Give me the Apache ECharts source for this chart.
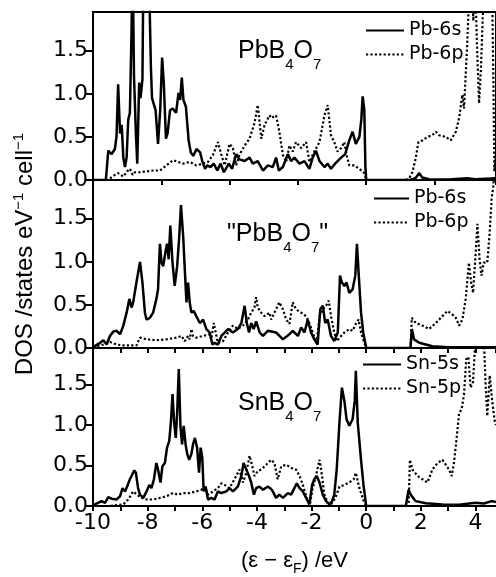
<!DOCTYPE html>
<html>
<head>
<meta charset="utf-8">
<title>DOS PbB4O7 / SnB4O7</title>
<script src="https://cdn.jsdelivr.net/npm/echarts@6.0.0/dist/echarts.min.js"></script>
<style>
  html, body { margin: 0; padding: 0; background: #fff; }
  #chart { width: 496px; height: 577px; }
</style>
</head>
<body>
<div id="chart"></div>
<script>
// energy (eV, relative to E_F) vs DOS (states / eV / cell)
const pbTop6s = [
  [-10, 0], [-9.53, 0], [-9.44, 0.34], [-9.32, 0.30], [-9.20, 0.36], [-9.14, 0.50], [-9.08, 1.11], [-9.01, 0.54],
  [-8.95, 0.64], [-8.89, 0.26], [-8.83, 0.15], [-8.77, 0.26], [-8.71, 0.70], [-8.65, 0.78], [-8.59, 1.72], [-8.55, 2.6],
  [-8.50, 1.21], [-8.43, 0.54], [-8.38, 0.19], [-8.31, 1.13], [-8.26, 0.95], [-8.19, 1.17], [-8.16, 2.3], [-8.05, 3.0],
  [-7.94, 2.2], [-7.88, 1.3], [-7.84, 0.95], [-7.78, 0.93], [-7.71, 0.81], [-7.62, 0.42], [-7.54, 0.81], [-7.47, 1.42],
  [-7.41, 1.13], [-7.33, 0.48], [-7.27, 0.54], [-7.18, 0.81], [-7.08, 0.83], [-6.96, 0.78], [-6.87, 1.01], [-6.81, 0.93],
  [-6.75, 1.19], [-6.69, 0.93], [-6.60, 0.85], [-6.50, 0.46], [-6.42, 0.32], [-6.33, 0.28], [-6.21, 0.36], [-6.08, 0.32],
  [-6.00, 0.22], [-5.90, 0.13], [-5.82, 0.17], [-5.70, 0.15], [-5.58, 0.19], [-5.45, 0.11], [-5.33, 0.19], [-5.21, 0.09],
  [-5.03, 0.19], [-4.91, 0.13], [-4.76, 0.30], [-4.64, 0.24], [-4.45, 0.22], [-4.27, 0.26], [-4.15, 0.19], [-3.97, 0.22],
  [-3.78, 0.11], [-3.60, 0.17], [-3.42, 0.15], [-3.30, 0.26], [-3.20, 0.11], [-3.05, 0.15], [-2.87, 0.30], [-2.75, 0.22],
  [-2.63, 0.26], [-2.44, 0.19], [-2.26, 0.22], [-2.08, 0.13], [-1.96, 0.26], [-1.84, 0.34], [-1.71, 0.22], [-1.53, 0.15],
  [-1.41, 0.19], [-1.29, 0.13], [-1.11, 0.20], [-0.92, 0.26], [-0.77, 0.30], [-0.62, 0.46], [-0.50, 0.56], [-0.38, 0.42],
  [-0.25, 0.50], [-0.18, 0.70], [-0.13, 0.97], [-0.07, 0.81], [-0.03, 0.15], [0, 0],
  [1.6, 0], [1.8, 0.02], [1.94, 0.08], [2.05, 0.03], [2.3, 0.01], [3.0, 0.005], [3.7, 0.02], [4.0, 0.01], [4.75, 0.02]
];
const pbTop6p = [
  [-10, 0], [-9.45, 0], [-9.38, 0.02], [-9.25, 0.05], [-9.08, 0.08], [-8.89, 0.04], [-8.75, 0.10], [-8.65, 0.13],
  [-8.55, 0.06], [-8.47, 0.09], [-8.28, 0.09], [-8.04, 0.10], [-7.80, 0.11], [-7.55, 0.11], [-7.31, 0.17], [-7.07, 0.23],
  [-6.89, 0.21], [-6.70, 0.19], [-6.46, 0.21], [-6.22, 0.17], [-5.97, 0.19], [-5.79, 0.21], [-5.61, 0.29], [-5.43, 0.44],
  [-5.30, 0.29], [-5.18, 0.17], [-5.00, 0.42], [-4.88, 0.37], [-4.76, 0.17], [-4.64, 0.29], [-4.45, 0.40], [-4.27, 0.48],
  [-4.09, 0.66], [-3.97, 0.87], [-3.84, 0.48], [-3.72, 0.64], [-3.54, 0.75], [-3.48, 0.72], [-3.30, 0.75], [-3.18, 0.56],
  [-3.05, 0.29], [-2.93, 0.21], [-2.81, 0.40], [-2.69, 0.33], [-2.57, 0.44], [-2.38, 0.37], [-2.20, 0.44], [-2.08, 0.21],
  [-1.90, 0.33], [-1.71, 0.44], [-1.53, 0.75], [-1.41, 0.87], [-1.29, 0.52], [-1.17, 0.44], [-1.05, 0.33], [-0.92, 0.37],
  [-0.80, 0.44], [-0.72, 0.29], [-0.62, 0.17], [-0.44, 0.17], [-0.25, 0.13], [-0.07, 0.08], [0, 0],
  [1.45, 0], [1.57, 0.02], [1.69, 0.09], [1.81, 0.25], [1.91, 0.44], [2.06, 0.46], [2.24, 0.50], [2.42, 0.52],
  [2.55, 0.56], [2.67, 0.52], [2.91, 0.50], [3.09, 0.46], [3.28, 0.56], [3.40, 0.72], [3.52, 0.99], [3.58, 0.83],
  [3.64, 1.22], [3.70, 1.6], [3.76, 2.1], [3.85, 2.5], [3.92, 1.85], [3.98, 2.4], [4.05, 1.6], [4.13, 0.89],
  [4.20, 1.3], [4.30, 2.2], [4.45, 2.6], [4.60, 2.4], [4.66, 1.0], [4.69, 0.1], [4.75, 0.3]
];
const pbMid6s = [
  [-10, 0.01], [-9.99, 0.02], [-9.74, 0.06], [-9.62, 0.09], [-9.50, 0.04], [-9.38, 0.14], [-9.26, 0.19], [-9.14, 0.20],
  [-9.01, 0.16], [-8.89, 0.26], [-8.77, 0.41], [-8.67, 0.57], [-8.59, 0.47], [-8.53, 0.53], [-8.41, 0.76], [-8.28, 1.00],
  [-8.19, 0.76], [-8.10, 0.41], [-8.04, 0.33], [-7.92, 0.35], [-7.80, 0.41], [-7.68, 0.57], [-7.62, 0.68], [-7.55, 1.21],
  [-7.49, 0.99], [-7.43, 0.95], [-7.34, 1.13], [-7.29, 1.21], [-7.23, 1.03], [-7.17, 1.42], [-7.09, 0.99], [-7.01, 0.72],
  [-6.92, 0.95], [-6.85, 1.26], [-6.78, 1.66], [-6.70, 1.30], [-6.64, 0.91], [-6.58, 0.53], [-6.52, 0.76], [-6.46, 0.53],
  [-6.40, 0.41], [-6.31, 0.43], [-6.22, 0.37], [-6.09, 0.29], [-5.97, 0.33], [-5.85, 0.22], [-5.73, 0.18], [-5.63, 0.04],
  [-5.55, 0.06], [-5.43, 0.04], [-5.30, 0.14], [-5.18, 0.18], [-5.06, 0.22], [-4.88, 0.18], [-4.70, 0.22], [-4.57, 0.29],
  [-4.45, 0.49], [-4.37, 0.29], [-4.29, 0.18], [-4.21, 0.29], [-4.12, 0.22], [-4.03, 0.31], [-3.90, 0.18], [-3.78, 0.14],
  [-3.60, 0.20], [-3.54, 0.22], [-3.30, 0.18], [-3.05, 0.10], [-2.81, 0.16], [-2.69, 0.20], [-2.50, 0.14], [-2.38, 0.24],
  [-2.26, 0.18], [-2.14, 0.33], [-2.02, 0.18], [-1.90, 0.10], [-1.78, 0.04], [-1.68, 0.45], [-1.59, 0.49], [-1.50, 0.29],
  [-1.41, 0.33], [-1.29, 0.14], [-1.17, 0.08], [-1.04, 0.18], [-0.96, 0.84], [-0.89, 0.76], [-0.80, 0.72], [-0.72, 0.76],
  [-0.62, 0.64], [-0.50, 0.68], [-0.40, 0.84], [-0.34, 1.21], [-0.28, 0.88], [-0.19, 0.41], [-0.11, 0.18], [0, 0],
  [1.62, 0], [1.67, 0.22], [1.75, 0.10], [1.94, 0.06], [2.42, 0.02], [3.0, 0.01], [4.0, 0.01], [4.75, 0.01]
];
const pbMid6p = [
  [-10, 0.01], [-9.62, 0.04], [-9.38, 0.07], [-9.14, 0.04], [-8.89, 0.03], [-8.41, 0.03], [-8.28, 0.12], [-8.04, 0.10],
  [-7.68, 0.09], [-7.31, 0.10], [-6.95, 0.12], [-6.76, 0.14], [-6.64, 0.08], [-6.52, 0.14], [-6.46, 0.10], [-6.40, 0.22],
  [-6.34, 0.14], [-6.22, 0.12], [-5.97, 0.14], [-5.73, 0.16], [-5.67, 0.10], [-5.58, 0.29], [-5.51, 0.18], [-5.43, 0.06],
  [-5.24, 0.08], [-5.06, 0.18], [-4.88, 0.26], [-4.70, 0.22], [-4.51, 0.26], [-4.33, 0.33], [-4.21, 0.41], [-4.09, 0.47],
  [-4.03, 0.59], [-3.97, 0.47], [-3.84, 0.41], [-3.72, 0.37], [-3.54, 0.41], [-3.48, 0.33], [-3.30, 0.45], [-3.18, 0.53],
  [-3.05, 0.45], [-2.93, 0.33], [-2.81, 0.28], [-2.69, 0.53], [-2.57, 0.45], [-2.38, 0.41], [-2.20, 0.37], [-2.08, 0.29],
  [-1.96, 0.18], [-1.81, 0.06], [-1.71, 0.37], [-1.59, 0.45], [-1.47, 0.49], [-1.37, 0.55], [-1.29, 0.37], [-1.17, 0.18],
  [-1.08, 0.08], [-0.92, 0.14], [-0.80, 0.18], [-0.62, 0.22], [-0.50, 0.20], [-0.38, 0.28], [-0.28, 0.33], [-0.19, 0.18],
  [-0.07, 0.06], [0, 0],
  [1.62, 0], [1.67, 0.35], [1.81, 0.29], [2.06, 0.26], [2.30, 0.22], [2.55, 0.29], [2.79, 0.37], [2.97, 0.43],
  [3.15, 0.39], [3.28, 0.35], [3.40, 0.26], [3.52, 0.33], [3.64, 0.57], [3.76, 0.99], [3.84, 0.76], [3.91, 0.64],
  [4.00, 1.07], [4.07, 1.44], [4.15, 1.03], [4.22, 0.84], [4.30, 0.99], [4.43, 0.99], [4.51, 1.30], [4.59, 1.73],
  [4.65, 1.88], [4.71, 2.1], [4.75, 2.3]
];
const snBot5s = [
  [-10, 0.01], [-9.99, 0.02], [-9.81, 0.04], [-9.68, 0.06], [-9.56, 0.04], [-9.44, 0.11], [-9.32, 0.09], [-9.14, 0.08],
  [-9.01, 0.12], [-8.92, 0.22], [-8.83, 0.18], [-8.75, 0.24], [-8.65, 0.33], [-8.59, 0.37], [-8.49, 0.44], [-8.43, 0.41],
  [-8.35, 0.22], [-8.28, 0.14], [-8.16, 0.10], [-8.04, 0.18], [-7.94, 0.26], [-7.86, 0.22], [-7.77, 0.33], [-7.68, 0.53],
  [-7.62, 0.45], [-7.53, 0.29], [-7.46, 0.49], [-7.37, 0.53], [-7.29, 0.72], [-7.21, 0.80], [-7.15, 1.03], [-7.09, 1.38],
  [-7.03, 1.03], [-6.97, 0.84], [-6.92, 1.15], [-6.86, 1.69], [-6.80, 0.99], [-6.74, 0.76], [-6.68, 0.99], [-6.61, 0.76],
  [-6.55, 0.64], [-6.48, 0.57], [-6.40, 0.64], [-6.34, 0.76], [-6.27, 0.84], [-6.19, 0.72], [-6.12, 0.41], [-6.06, 0.72],
  [-6.00, 0.60], [-5.95, 0.18], [-5.88, 0.24], [-5.79, 0.08], [-5.67, 0.10], [-5.55, 0.08], [-5.43, 0.18], [-5.30, 0.16],
  [-5.12, 0.18], [-5.00, 0.22], [-4.88, 0.18], [-4.70, 0.24], [-4.57, 0.37], [-4.49, 0.53], [-4.39, 0.45], [-4.29, 0.37],
  [-4.21, 0.29], [-4.11, 0.14], [-4.03, 0.22], [-3.91, 0.24], [-3.78, 0.20], [-3.60, 0.24], [-3.48, 0.21], [-3.42, 0.18],
  [-3.30, 0.10], [-3.18, 0.14], [-3.05, 0.10], [-2.87, 0.16], [-2.75, 0.14], [-2.63, 0.22], [-2.54, 0.28], [-2.44, 0.22],
  [-2.32, 0.18], [-2.20, 0.10], [-2.08, 0.02], [-1.98, 0.26], [-1.90, 0.33], [-1.81, 0.37], [-1.71, 0.29], [-1.59, 0.14],
  [-1.47, 0.06], [-1.35, 0.02], [-1.25, 0.06], [-1.17, 0.14], [-1.08, 0.45], [-0.98, 1.03], [-0.89, 1.46], [-0.80, 1.30],
  [-0.72, 1.07], [-0.62, 0.99], [-0.50, 1.07], [-0.42, 1.30], [-0.38, 1.67], [-0.31, 1.03], [-0.19, 0.57], [-0.10, 0.26],
  [0, 0],
  [1.45, 0], [1.55, 0.20], [1.63, 0.14], [1.81, 0.06], [2.18, 0.035], [2.79, 0.02], [3.4, 0.015], [4.0, 0.04],
  [4.3, 0.03], [4.6, 0.06], [4.75, 0.05]
];
const snBot5p = [
  [-10, 0], [-9.38, 0], [-8.89, 0.02], [-8.71, 0.08], [-8.53, 0.18], [-8.28, 0.11], [-8.04, 0.08], [-7.80, 0.08],
  [-7.55, 0.10], [-7.31, 0.12], [-7.07, 0.16], [-6.89, 0.14], [-6.70, 0.16], [-6.46, 0.16], [-6.22, 0.18], [-6.03, 0.20],
  [-5.91, 0.24], [-5.79, 0.14], [-5.61, 0.18], [-5.43, 0.22], [-5.30, 0.28], [-5.18, 0.26], [-5.00, 0.22], [-4.76, 0.37],
  [-4.64, 0.45], [-4.51, 0.29], [-4.39, 0.41], [-4.27, 0.62], [-4.17, 0.49], [-4.09, 0.37], [-3.97, 0.43], [-3.84, 0.45],
  [-3.72, 0.49], [-3.60, 0.53], [-3.48, 0.57], [-3.36, 0.53], [-3.24, 0.33], [-3.11, 0.49], [-2.93, 0.51], [-2.75, 0.47],
  [-2.57, 0.45], [-2.44, 0.37], [-2.32, 0.26], [-2.14, 0.06], [-2.06, 0.02], [-1.96, 0.22], [-1.84, 0.37], [-1.71, 0.57],
  [-1.65, 0.45], [-1.53, 0.14], [-1.41, 0.04], [-1.29, 0.02], [-1.13, 0.10], [-0.98, 0.24], [-0.80, 0.26], [-0.62, 0.29],
  [-0.46, 0.33], [-0.38, 0.41], [-0.25, 0.22], [-0.07, 0.04], [0, 0],
  [1.55, 0], [1.60, 0.57], [1.69, 0.45], [1.88, 0.37], [2.06, 0.33], [2.24, 0.29], [2.42, 0.45], [2.61, 0.53],
  [2.79, 0.57], [2.91, 0.51], [3.03, 0.45], [3.13, 0.37], [3.21, 0.53], [3.31, 0.84], [3.40, 1.15], [3.49, 1.19],
  [3.58, 1.38], [3.66, 1.81], [3.74, 1.84], [3.82, 1.46], [3.91, 1.53], [4.00, 2.1], [4.10, 2.3], [4.20, 2.2],
  [4.30, 2.1], [4.37, 1.50], [4.43, 1.11], [4.52, 1.61], [4.61, 1.30], [4.71, 1.03], [4.75, 1.0]
];

const panelNames = ['PbB{s|4}O{s|7}', '"PbB{s|4}O{s|7}"', 'SnB{s|4}O{s|7}'];
const legendNames = [['Pb-6s', 'Pb-6p'], ['Pb-6s', 'Pb-6p'], ['Sn-5s', 'Sn-5p']];
const yMajorTicks = [0, 0.5, 1.0, 1.5];
const yMinorTicks = [0.25, 0.75, 1.25, 1.75];
const xTickStep = [2.5, 1, 1];

const FONT = 'Liberation Sans, Arial, sans-serif';
const TICK_FONT = 'DejaVu Sans, sans-serif';
const X_MIN = -10;
const X_MAX = 4.75;
const Y_MAX = 1.95;
const GRID_TOP = 12;
const GRID_H = 168;

const chart = echarts.init(document.getElementById('chart'), null, { renderer: 'canvas' });

const grids = [0, 1, 2].map((i) => ({
  left: 93,
  width: 404,
  top: GRID_TOP + GRID_H * i,
  height: GRID_H,
  show: i === 0,
  borderColor: '#000',
  borderWidth: 2,
}));

const xAxes = [0, 1, 2].map((i) => ({
  type: 'value',
  gridIndex: i,
  min: X_MIN,
  max: X_MAX,
  interval: xTickStep[i],
  axisLine: { show: true, onZero: false, lineStyle: { color: '#000', width: 2 } },
  axisTick: { show: true, inside: false, length: 5, lineStyle: { color: '#000', width: 2 } },
  splitLine: { show: false },
  axisLabel: i < 2 ? { show: false } : {
    show: true,
    margin: 6,
    fontSize: 22,
    fontFamily: TICK_FONT,
    color: '#000',
    showMaxLabel: false,
    formatter: (v) => (Math.abs(v % 2) < 1e-9 ? String(v) : ''),
  },
  name: i === 2 ? '(\u03b5 \u2212 \u03b5{sub|F}) /eV' : '',
  nameLocation: 'middle',
  nameGap: 40,
  nameTextStyle: {
    fontSize: 22,
    fontFamily: FONT,
    color: '#000',
    lineHeight: 30,
    rich: { sub: { fontSize: 14, lineHeight: 14, verticalAlign: 'bottom', fontFamily: FONT, color: '#000' } },
  },
}));

const yMain = [0, 1, 2].map((i) => ({
  type: 'value',
  gridIndex: i,
  min: 0,
  max: Y_MAX,
  interval: 0.5,
  axisLine: { show: true, onZero: false, lineStyle: { color: '#000', width: 2 } },
  axisTick: { show: true, length: 8, customValues: yMajorTicks, lineStyle: { color: '#000', width: 2 } },
  axisLabel: {
    margin: 5,
    fontSize: 22,
    fontFamily: TICK_FONT,
    color: '#000',
    customValues: yMajorTicks,
    formatter: (v) => v.toFixed(1),
  },
  splitLine: { show: false },
}));

const yMinor = [0, 1, 2].map((i) => ({
  type: 'value',
  gridIndex: i,
  min: 0,
  max: Y_MAX,
  axisLine: { show: false, onZero: false },
  axisTick: { show: true, length: 5, customValues: yMinorTicks, lineStyle: { color: '#000', width: 2 } },
  axisLabel: { show: false },
  splitLine: { show: false },
}));

function dosLine(name, data, panel, dotted) {
  return {
    type: 'line',
    name,
    data,
    xAxisIndex: panel,
    yAxisIndex: panel,
    symbol: 'none',
    silent: true,
    lineStyle: dotted
      ? { color: '#000', width: 2.2, type: [2.2, 2.2] }
      : { color: '#000', width: 2.5, type: 'solid' },
    itemStyle: { color: '#000' },
  };
}

const series = [
  dosLine('Pb-6s', pbTop6s, 0, false),
  dosLine('Pb-6p', pbTop6p, 0, true),
  dosLine('Pb-6s', pbMid6s, 1, false),
  dosLine('Pb-6p', pbMid6p, 1, true),
  dosLine('Sn-5s', snBot5s, 2, false),
  dosLine('Sn-5p', snBot5p, 2, true),
];

const legendPos = [[365, 21, 38], [373, 189, 35], [362, 355, 38]];
const legends = legendNames.map((names, i) => ({
  data: names,
  orient: 'vertical',
  left: legendPos[i][0],
  top: legendPos[i][1],
  itemWidth: legendPos[i][2],
  itemHeight: 20,
  itemGap: 5,
  padding: 0,
  selectedMode: false,
  itemStyle: { opacity: 0, borderWidth: 0 },
  textStyle: { fontSize: 19, fontFamily: TICK_FONT, color: '#000' },
}));

const labelPos = [[238, 30], [227, 213], [238, 382]];
const titles = panelNames.map((text, i) => ({
  text: '{a|' + text.replace(/\{s\|(\d)\}/g, '}{s|$1}{a|') + '}',
  left: labelPos[i][0],
  top: labelPos[i][1],
  padding: 0,
  textStyle: {
    fontWeight: 'normal',
    rich: {
      a: { fontSize: 25, lineHeight: 42, fontFamily: FONT, fontWeight: 'normal', color: '#000' },
      s: { fontSize: 15, lineHeight: 15, verticalAlign: 'bottom', fontFamily: FONT, fontWeight: 'normal', color: '#000' },
    },
  },
}));

chart.setOption({
  animation: false,
  backgroundColor: '#fff',
  title: titles,
  legend: legends,
  grid: grids,
  xAxis: xAxes,
  yAxis: yMain.concat(yMinor),
  series,
  graphic: [{
    type: 'text',
    x: 25,
    y: 254,
    rotation: Math.PI / 2,
    silent: true,
    style: {
      text: 'DOS /states eV{sup|\u22121} cell{sup|\u22121}',
      fontSize: 24,
      fontFamily: FONT,
      fill: '#000',
      lineHeight: 28,
      align: 'center',
      verticalAlign: 'middle',
      rich: { sup: { fontSize: 15, lineHeight: 15, verticalAlign: 'top', fontFamily: FONT, fill: '#000' } },
    },
  }],
});
</script>
</body>
</html>
